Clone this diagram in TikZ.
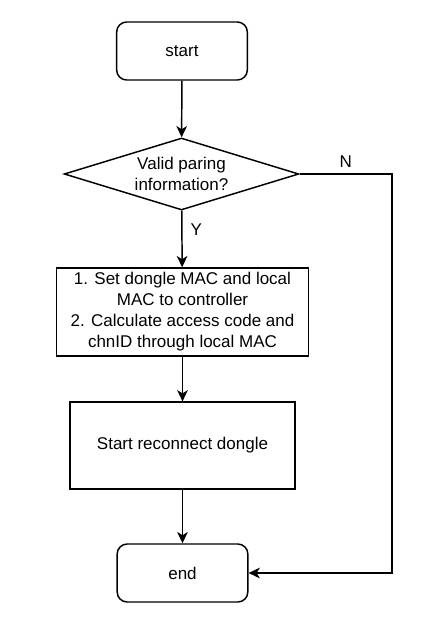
\documentclass[tikz,border=0pt]{standalone}
\usepackage{fontspec}
\setmainfont{Liberation Sans}
\usetikzlibrary{shapes.geometric,arrows.meta}

\begin{document}
\begin{tikzpicture}[x=0.75pt, y=-0.75pt,
        every node/.style={font=\fontsize{12.75pt}{15.75pt}\selectfont},
        term/.style={draw, line width=1.1pt, rounded corners=7.5pt, minimum width=98pt, minimum height=43.5pt},
        proc/.style={draw, line width=1.1pt, align=center, inner sep=0pt},
        decide/.style={draw, line width=1.1pt, diamond, aspect=3.26, inner sep=0pt, align=center,
            minimum width=176pt, minimum height=54pt},
        arrow/.style={line width=1.1pt, -{Stealth[length=8.5pt, width=8pt, inset=2.5pt]}},
        lbl/.style={inner sep=2pt}]
            \useasboundingbox (0, 0) rectangle (430, 635);
            \node[term] (start) at (182, 51) {start};
            \node[decide] (valid) at (181.5, 174) {Valid paring\\information?};
            \node[proc, minimum width=189pt, minimum height=66pt] (setmac) at (182.5, 312)
                {1. Set dongle MAC and local\\MAC to controller\\2. Calculate access code and\\chnID through local MAC};
            \node[proc, minimum width=169pt, minimum height=65pt] (reconn) at (182.5, 445.5) {Start reconnect dongle};
            \node[term] (end) at (182.5, 573) {end};
            \coordinate (turn) at (392, 174);
            \draw[arrow] (start) -- (valid);
            \draw[arrow] (valid) -- node[lbl, pos=0.33, right=4pt] {Y} (setmac);
            \draw[arrow] (setmac) -- (reconn);
            \draw[arrow] (reconn) -- (end);
            \draw[arrow] (valid.east) -- node[lbl, above=2pt] {N} (turn) |- (end.east);
        \end{tikzpicture}
\end{document}
